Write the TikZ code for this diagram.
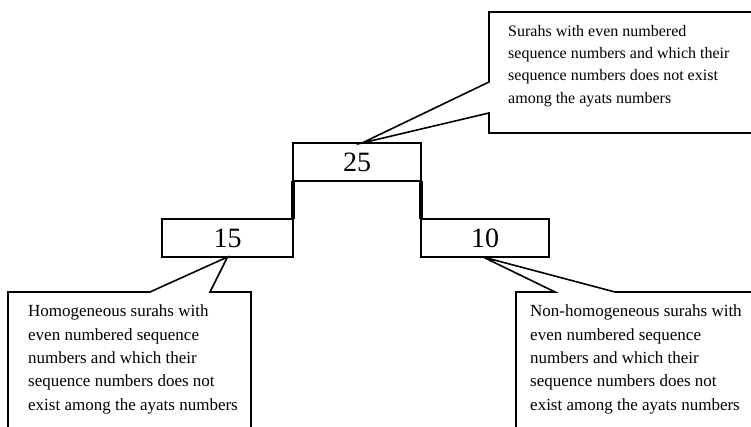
\documentclass[tikz,border=0pt]{standalone}
\usepackage{fontspec}
\setmainfont{Liberation Serif}
\usetikzlibrary{positioning}
\begin{document}
\begin{tikzpicture}[x=1pt,y=1pt,
  numbox/.style={draw, line width=1.6pt, minimum width=128pt, minimum height=38pt,
    inner sep=0pt, outer sep=0pt, font=\fontsize{28}{28}\selectfont},
  note/.style={align=left, anchor=north west, inner sep=0pt,
    font=\fontsize{17}{23.3}\selectfont},
  callout/.style={draw, line width=1.6pt, line join=miter}]
\clip (0,0) rectangle (751,427);

  % the three counts
  \node [numbox] (n25) at (357,265) {25};
  \node [numbox, minimum width=131pt] (n15) at (227.5,189) {15};
  \node [numbox] (n10) at (485,189) {10};

  \draw [line width=3.5pt] (n25.south west) -- (n15.north east);
  \draw [line width=3.5pt] (n25.south east) -- (n10.north west);

  % pointer tips
  \coordinate (tipTop) at ([xshift=5pt]n25.north);
  \coordinate (tipLeft) at (n15.south);
  \coordinate (tipRight) at ([xshift=-2pt]n10.south);

  % callouts
  \draw [callout] (760,415) -- (489,415) -- (489,345) -- (tipTop)
    -- (489,314) -- (489,294) -- (760,294);
  \draw [callout] (8,-10) -- (8,135) -- (150,135) -- (tipLeft)
    -- (210,135) -- (251,135) -- (251,-10);
  \draw [callout] (516,-10) -- (516,135) -- (555,135) -- (tipRight)
    -- (615,135) -- (760,135);

  \node [note, font=\fontsize{16}{22.3}\selectfont] (noteTop) at (508,402) {Surahs with even numbered\\sequence numbers and which their\\sequence numbers does not exist\\among the ayats numbers};
  \node [note] (noteLeft) at (28,122) {Homogeneous surahs with\\even numbered sequence\\numbers and which their\\sequence numbers does not\\exist among the ayats numbers};
  \node [note] (noteRight) at (530,122) {Non-homogeneous surahs with\\even numbered sequence\\numbers and which their\\sequence numbers does not\\exist among the ayats numbers};

\end{tikzpicture}
\end{document}
